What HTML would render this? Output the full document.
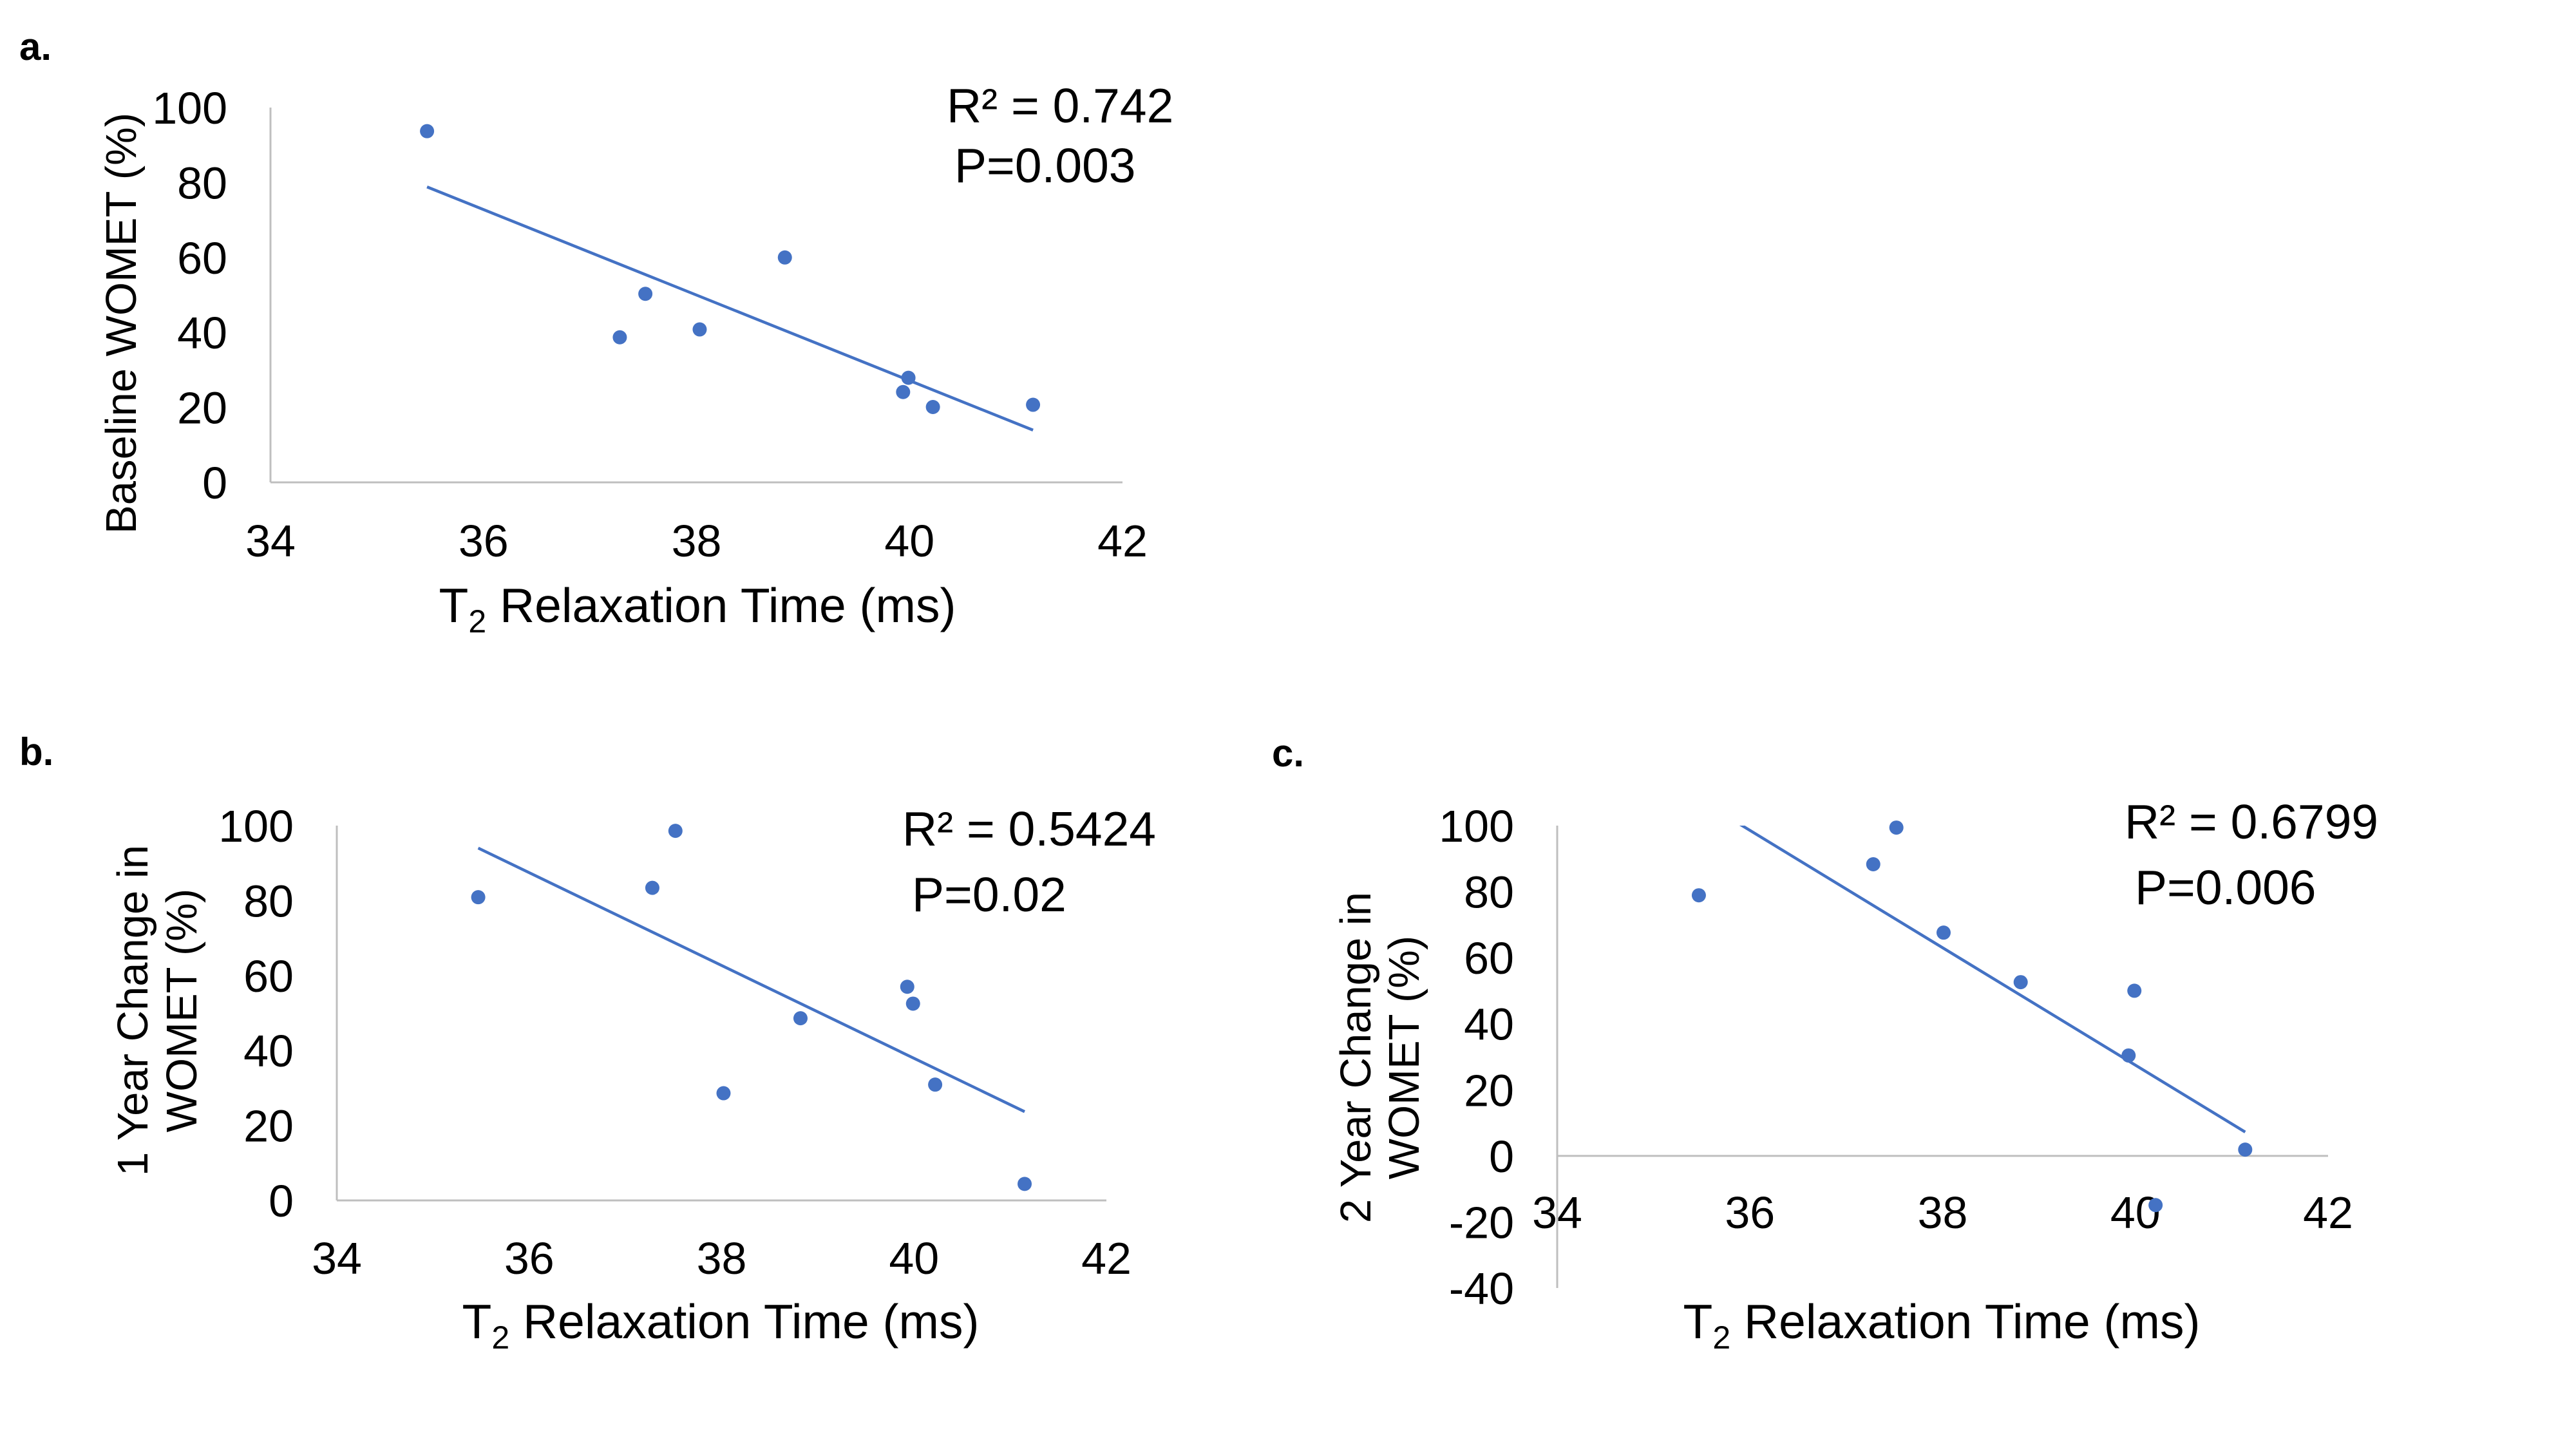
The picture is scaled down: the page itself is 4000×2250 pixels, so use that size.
<!DOCTYPE html>
<html><head><meta charset="utf-8"><style>
html,body{margin:0;padding:0;background:#fff;}
svg{display:block;font-family:"Liberation Sans",Arial,sans-serif;}
</style></head><body>
<svg id="fig" width="4000" height="2250" viewBox="0 0 4000 2250" xmlns="http://www.w3.org/2000/svg">
<defs>
<clipPath id="clipC"><rect x="2418" y="1282" width="1197" height="718"/></clipPath>
</defs>
<text x="30" y="93" font-size="60" font-weight="bold">a.</text>
<text x="30" y="1188" font-size="60" font-weight="bold">b.</text>
<text x="1975" y="1190" font-size="60" font-weight="bold">c.</text>
</svg>
<script>
const xTicks = [34, 36, 38, 40, 42];
const t2A = [35.47, 37.28, 37.52, 38.03, 38.83, 39.94, 39.99, 40.22, 41.16];
const womA = [93.7, 38.7, 50.3, 40.8, 60.0, 24.1, 27.9, 20.1, 20.7];
const yTicksA = [0, 20, 40, 60, 80, 100];
const t2B = [35.47, 37.28, 37.52, 38.02, 38.82, 39.93, 39.99, 40.22, 41.15];
const womB = [80.9, 83.4, 98.6, 28.6, 48.6, 57.0, 52.5, 30.9, 4.4];
const yTicksB = [0, 20, 40, 60, 80, 100];
const t2C = [35.47, 37.28, 37.52, 38.01, 38.81, 39.93, 39.99, 40.21, 41.14];
const womC = [78.9, 88.3, 99.4, 67.6, 52.6, 30.4, 50.0, -14.9, 1.9];
const yTicksC = [-40, -20, 0, 20, 40, 60, 80, 100];
const statsA = ["R² = 0.742", "P=0.003"];
const statsB = ["R² = 0.5424", "P=0.02"];
const statsC = ["R² = 0.6799", "P=0.006"];

const NS = "http://www.w3.org/2000/svg";
const svg = document.getElementById('fig');
function mk(tag, attrs, parent) {
  const e = document.createElementNS(NS, tag);
  for (const k in attrs) e.setAttribute(k, attrs[k]);
  (parent || svg).appendChild(e);
  return e;
}
function fit(xs, ys) {
  const n = xs.length;
  const mx = xs.reduce((a, b) => a + b, 0) / n, my = ys.reduce((a, b) => a + b, 0) / n;
  let sxy = 0, sxx = 0;
  for (let i = 0; i < n; i++) { sxy += (xs[i] - mx) * (ys[i] - my); sxx += (xs[i] - mx) ** 2; }
  const m = sxy / sxx; return [m, my - m * mx];
}
function chart(c) {
  const g = mk('g', {});
  
  
  const X = v => c.x0 + (v - 34) / 8 * (c.x1 - c.x0);
  const Y = v => c.yb - (v - c.ymin) / (c.ymax - c.ymin) * (c.yb - c.yt);
  const yAxis = mk('line', {x1: c.x0, x2: c.x0, y1: c.yt, y2: c.yb, stroke: '#BFBFBF', 'stroke-width': 3}, g);
  
  
  const xAxis = mk('line', {x1: c.x0, x2: c.x1, y1: Y(0), y2: Y(0), stroke: '#BFBFBF', 'stroke-width': 3}, g);
  
  
  c.yTicks.forEach(v => {
    const t = mk('text', {x: c.ylx, y: Y(v) + 25, 'font-size': 70, 'text-anchor': 'end'}, g);
    t.textContent = v;
    
    
  });
  xTicks.forEach(v => {
    const t = mk('text', {x: X(v), y: c.xly + 25, 'font-size': 70, 'text-anchor': 'middle'}, g);
    t.textContent = v;
    
    
  });
  const [m, b] = fit(c.xs, c.ys);
  const xmin = Math.min(...c.xs), xmax = Math.max(...c.xs);
  const tl = mk('line', {x1: X(xmin), y1: Y(m * xmin + b), x2: X(xmax), y2: Y(m * xmax + b), stroke: '#4472C4', 'stroke-width': 4.5}, g);
  if (c.clip) tl.setAttribute('clip-path', 'url(#' + c.clip + ')');
  
  
  c.xs.forEach((v, i) => {
    const p = mk('ellipse', {cx: X(v), cy: Y(c.ys[i]), rx: 11, ry: 11, fill: '#4472C4'}, g);
    
    
  });
  const r = mk('text', {x: c.rx, y: c.ry + 26, 'font-size': 75}, g);
  r.textContent = c.stats[0];
  
  
  const p = mk('text', {x: c.px, y: c.py + 26, 'font-size': 75}, g);
  p.textContent = c.stats[1];
  
  
  const xt = mk('text', {x: c.xtx, y: c.xty + 26, 'font-size': 75, 'text-anchor': 'middle'}, g);
  xt.innerHTML = 'T<tspan font-size="50" dy="16">2</tspan><tspan dy="-16"> Relaxation Time (ms)</tspan>';
  
  
  c.ytitle.forEach((line, i) => {
    const yx = c.ytx[i];
    const yt = mk('text', {x: 0, y: 0, 'font-size': 67, 'text-anchor': 'middle', transform: `translate(${yx + 23},${c.yty}) rotate(-90)`}, g);
    yt.textContent = line;
    
    
  });
}
chart({name: 'chart-a', x0: 420, x1: 1743, yt: 167, yb: 749, ymin: 0, ymax: 100, xs: t2A, ys: womA, yTicks: yTicksA,
  ylx: 353, xly: 839, rx: 1470, ry: 164, px: 1482, py: 257, xtx: 1083, xty: 940, stats: statsA,
  ytitle: ['Baseline WOMET (%)'], ytx: [188], yty: 502});
chart({name: 'chart-b', x0: 523, x1: 1718, yt: 1282, yb: 1864, ymin: 0, ymax: 100, xs: t2B, ys: womB, yTicks: yTicksB,
  ylx: 456, xly: 1953, rx: 1401, ry: 1287, px: 1416, py: 1389, xtx: 1119, xty: 2052, stats: statsB,
  ytitle: ['1 Year Change in', 'WOMET (%)'], ytx: [206, 282], yty: 1569});
chart({name: 'chart-c', x0: 2418, x1: 3615, yt: 1282, yb: 2000, ymin: -40, ymax: 100, xs: t2C, ys: womC, yTicks: yTicksC,
  ylx: 2351, xly: 1882, rx: 3299, ry: 1276, px: 3315, py: 1378, xtx: 3015, xty: 2052, stats: statsC, clip: 'clipC',
  ytitle: ['2 Year Change in', 'WOMET (%)'], ytx: [2105, 2180], yty: 1642});
</script>
</body></html>
